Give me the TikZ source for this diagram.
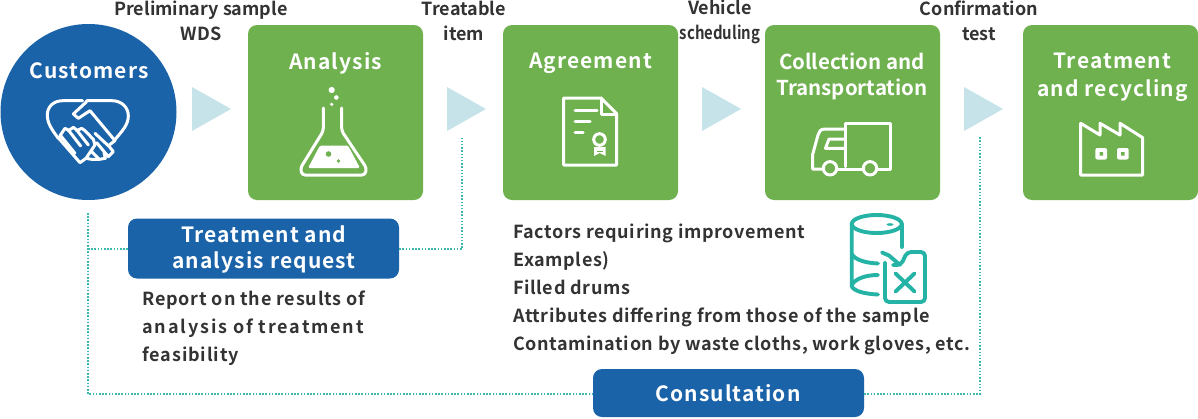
\documentclass[tikz,border=0pt]{standalone}
\usepackage{fontspec}
\setmainfont{Noto Sans CJK JP}[BoldFont={Noto Sans CJK JP Bold}]
\newfontfamily\tfont{Noto Sans CJK JP}[BoldFont={Noto Sans CJK JP Bold},LetterSpace=5.3]
\newfontfamily\bfont{Noto Sans CJK JP}[BoldFont={Noto Sans CJK JP Bold},LetterSpace=3.4]
\newfontfamily\bfontb{Noto Sans CJK JP}[BoldFont={Noto Sans CJK JP Bold},LetterSpace=4.5]
\newfontfamily\bfontc{Noto Sans CJK JP}[BoldFont={Noto Sans CJK JP Bold},LetterSpace=5]
\newfontfamily\bfontd{Noto Sans CJK JP}[BoldFont={Noto Sans CJK JP Bold},LetterSpace=10.3]
\definecolor{blu}{HTML}{1B63A9}
\definecolor{grn}{HTML}{6FB04F}
\definecolor{tri}{HTML}{C5E3E8}
\definecolor{teal}{HTML}{25B3A5}
\definecolor{dot}{HTML}{3DB8AE}
\definecolor{txt}{HTML}{333333}
\tikzset{
 gbox/.style={fill=grn,rounded corners=9pt},
 bbox/.style={fill=blu,rounded corners=9pt},
 ttl/.style={text=white,font=\tfont\bfseries\fontsize{21}{26}\selectfont,align=center,inner sep=0},
 lab/.style={text=txt,font=\bfseries\fontsize{18}{25}\selectfont,align=center,inner sep=0},
 body/.style={text=txt,font=\bfseries\fontsize{18}{28}\selectfont,align=left,inner sep=0,anchor=north west},
 arr/.style={fill=tri},
 dots/.style={draw=dot,line width=1.5pt,dash pattern=on 1.5pt off 1.7pt},
 ico/.style={draw=white,line width=3pt,line join=round,line cap=round},
 tico/.style={draw=teal,line width=3.9pt,line join=round,line cap=round},
}
\begin{document}
\begin{tikzpicture}[x=1pt,y=-1pt]
\useasboundingbox (0,0) rectangle (1198,418);
% connectors
\coordinate (cb) at (88,213);
\coordinate (cc) at (88,394);
\coordinate (tj) at (462,249);
\coordinate (tt) at (462,138);
\coordinate (rj) at (980,394);
\coordinate (rt) at (980,137);
\coordinate (lj) at (88,249);
% shapes
\node[circle,fill=blu,minimum size=176pt,inner sep=0] (cust) at (88.5,112) {};
\node[gbox,minimum size=175pt,inner sep=0] (ana) at (335.5,112.5) {};
\node[gbox,minimum size=175pt,inner sep=0] (agr) at (590.5,112.5) {};
\node[gbox,minimum size=175pt,inner sep=0] (col) at (852.5,112.5) {};
\node[gbox,minimum size=175pt,inner sep=0] (tre) at (1110.5,112.5) {};
\node[bbox,minimum width=271pt,minimum height=60pt,inner sep=0] (req) at (263.5,248.5) {};
\node[bbox,minimum width=271pt,minimum height=48pt,inner sep=0] (con) at (728.5,393) {};
\draw[dots] (cb) -- (cc) -- (con.west |- cc);
\draw[dots] (lj) -- (req.west |- lj);
\draw[dots] (req.east |- tj) -- (tj) -- (tt);
\draw[dots] (con.east |- rj) -- (rj) -- (rt);
% arrows
\fill[arr] (192,87) -- (231,109) -- (192,131) -- cycle;
\fill[arr] (447,87) -- (486,109) -- (447,131) -- cycle;
\fill[arr] (702,87) -- (741,109) -- (702,131) -- cycle;
\fill[arr] (964,87) -- (1003,109) -- (964,131) -- cycle;
% handshake
\begin{scope}[shift={(40,90)},x=.3333pt,y=-.3333pt]
\draw[ico] (128,32) -- (70,32) .. controls (40,32) and (22,50) .. (22,75) .. controls (22,100) and (35,118) .. (55,145);
\draw[ico] (140,32) -- (215,32) .. controls (245,32) and (265,52) .. (265,78) .. controls (265,105) and (245,125) .. (222,152);
\draw[ico] (140,35) -- (100,72) -- (115,85) -- (150,62) -- (225,152) -- (208,165);
\draw[ico] (52,140) -- (120,218) -- (138,205) -- (165,165) -- (160,148) -- (135,122) -- (125,115) -- (110,122);
\draw[ico] (60,137) -- (75,115) -- (85,120) -- (122,168);
\draw[ico] (85,122) -- (100,112) -- (110,120) -- (145,165);
\draw[ico] (62,137) -- (105,190);
\draw[ico] (165,130) -- (208,170) -- (220,185) -- (205,200) -- (170,158);
\draw[ico] (192,188) -- (196,205) -- (178,208) -- (155,185);
\draw[ico] (178,208) -- (155,208) -- (138,205);
\end{scope}
% flask
\draw[ico,rounded corners=3pt] (323.3,108) -- (323.3,131) -- (300.5,168) -- (302,175) -- (365,175) -- (366.5,168) -- (341.7,131) -- (341.7,108);
\fill[white,rounded corners=1.5pt] (320,145.5) -- (348,145.5) -- (360,168) -- (308,168) -- cycle;
\fill[white] (331.7,90) circle (3.1pt) (336.3,97.5) circle (2.3pt) (331.7,104.3) circle (1.8pt);
\fill[grn] (328.5,154) circle (2.8pt) (338.5,161) circle (1.8pt);
% document
\draw[ico,line cap=butt] (563.5,98) -- (601,98) -- (616.5,113.5) -- (616.5,165) -- (563.5,165) -- cycle;
\draw[ico] (601,98) -- (601,114.5) -- (616.5,114.5);
\draw[ico] (575,110) -- (597,110) (575,121) -- (590,121) (575,132) -- (583,132);
\draw[ico] (599.5,139.5) circle (5.8pt);
\fill[white] (594,147) -- (594,156) -- (599.7,153) -- (605.5,156) -- (605.5,147) -- cycle;
\fill[grn] (596.5,151) rectangle (603,152.2);
% truck
\draw[ico] (845,166.7) -- (845,123.3) -- (890,123.3) -- (890,169) -- (877,169);
\draw[ico] (837.5,169) -- (862.5,169);
\draw[ico] (845,129) -- (825,129) .. controls (820,129) and (819,132) .. (818,135) -- (812.5,155) -- (812.5,169) -- (822.5,169);
\draw[ico] (845,139) -- (829,139) -- (825.5,148.3) -- (845,148.3);
\draw[ico] (830,168.3) circle (6.7pt) (870,168.3) circle (6.7pt);
% factory
\draw[ico,line cap=butt] (1080.7,123.3) -- (1080.7,175) -- (1142.7,175) -- (1142.7,137.7) -- (1120,123.3) -- (1120,135) -- (1100,123.3) -- (1100,135) -- cycle;
\fill[white,rounded corners=2pt] (1095.3,148) rectangle (1107,159.5) (1117,148) rectangle (1128.7,159.5);
\fill[grn] (1099.5,152) rectangle (1103,155.5) (1121.2,152) rectangle (1124.7,155.5);
% drum and can
\draw[tico] (876.7,224) ellipse (25pt and 9pt);
\fill[teal] (890,224.5) ellipse (3.5pt and 1.3pt);
\draw[tico] (851.7,224) -- (851.7,286) .. controls (853,291) and (865,294) .. (878,294.5);
\draw[tico] (901.7,224) -- (901.7,247);
\draw[tico] (851.7,254) .. controls (855,260) and (866,263) .. (878,263.5);
\draw[tico] (878,275) .. controls (865,275) and (855,279) .. (851.7,285);
\draw[tico] (882,252.5) -- (889,255.5) -- (900,265);
\draw[tico,rounded corners=4pt] (885,262.5) -- (885,302) -- (925,302) -- (925,252) -- (907,252) -- (901,265) -- (893,265);
\draw[tico] (895.5,273.5) -- (914.5,291.5) (914.5,273.5) -- (895.5,291.5);
% titles
\node[ttl] (t1) at (89,70.5) {Customers};
\node[ttl] (t2) at (335.5,63) {Analysis};
\node[ttl] (t3) at (590.5,63) {Agreement};
\node[ttl,font=\bfseries\fontsize{20.5}{26}\selectfont] (t4) at (852,76) {Collection and\\Transportation};
\node[ttl,font=\tfont\bfseries\fontsize{21}{28}\selectfont] (t5) at (1112.5,77) {Treatment\\and recycling};
\node[ttl] (t6) at (264,249.5) {Treatment and\\analysis request};
\node[ttl] (t7) at (728,393) {Consultation};
% top labels
\node[lab] (l1) at (201,21) {Preliminary sample\\WDS};
\node[lab] (l2) at (464,21) {Treatable\\item};
\node[lab] (l3) at (720,21.5) {Vehicle\\\scalebox{.83}[1]{scheduling}};
\node[lab] (l4) at (979,21) {Confirmation\\test};
% body
\node[body] (b1) at (142,291) {{\bfontb\bfseries Report on the results of}\\{\bfontd\bfseries analysis of treatment}\\{\bfontc\bfseries feasibility}};
\node[body,font=\bfont\bfseries\fontsize{18}{27.8}\selectfont] (b2) at (513,224) {Factors requiring improvement\\Examples)\\Filled drums\\Attributes differing from those of the sample\\Contamination by waste cloths, work gloves, etc.};
\end{tikzpicture}
\end{document}
